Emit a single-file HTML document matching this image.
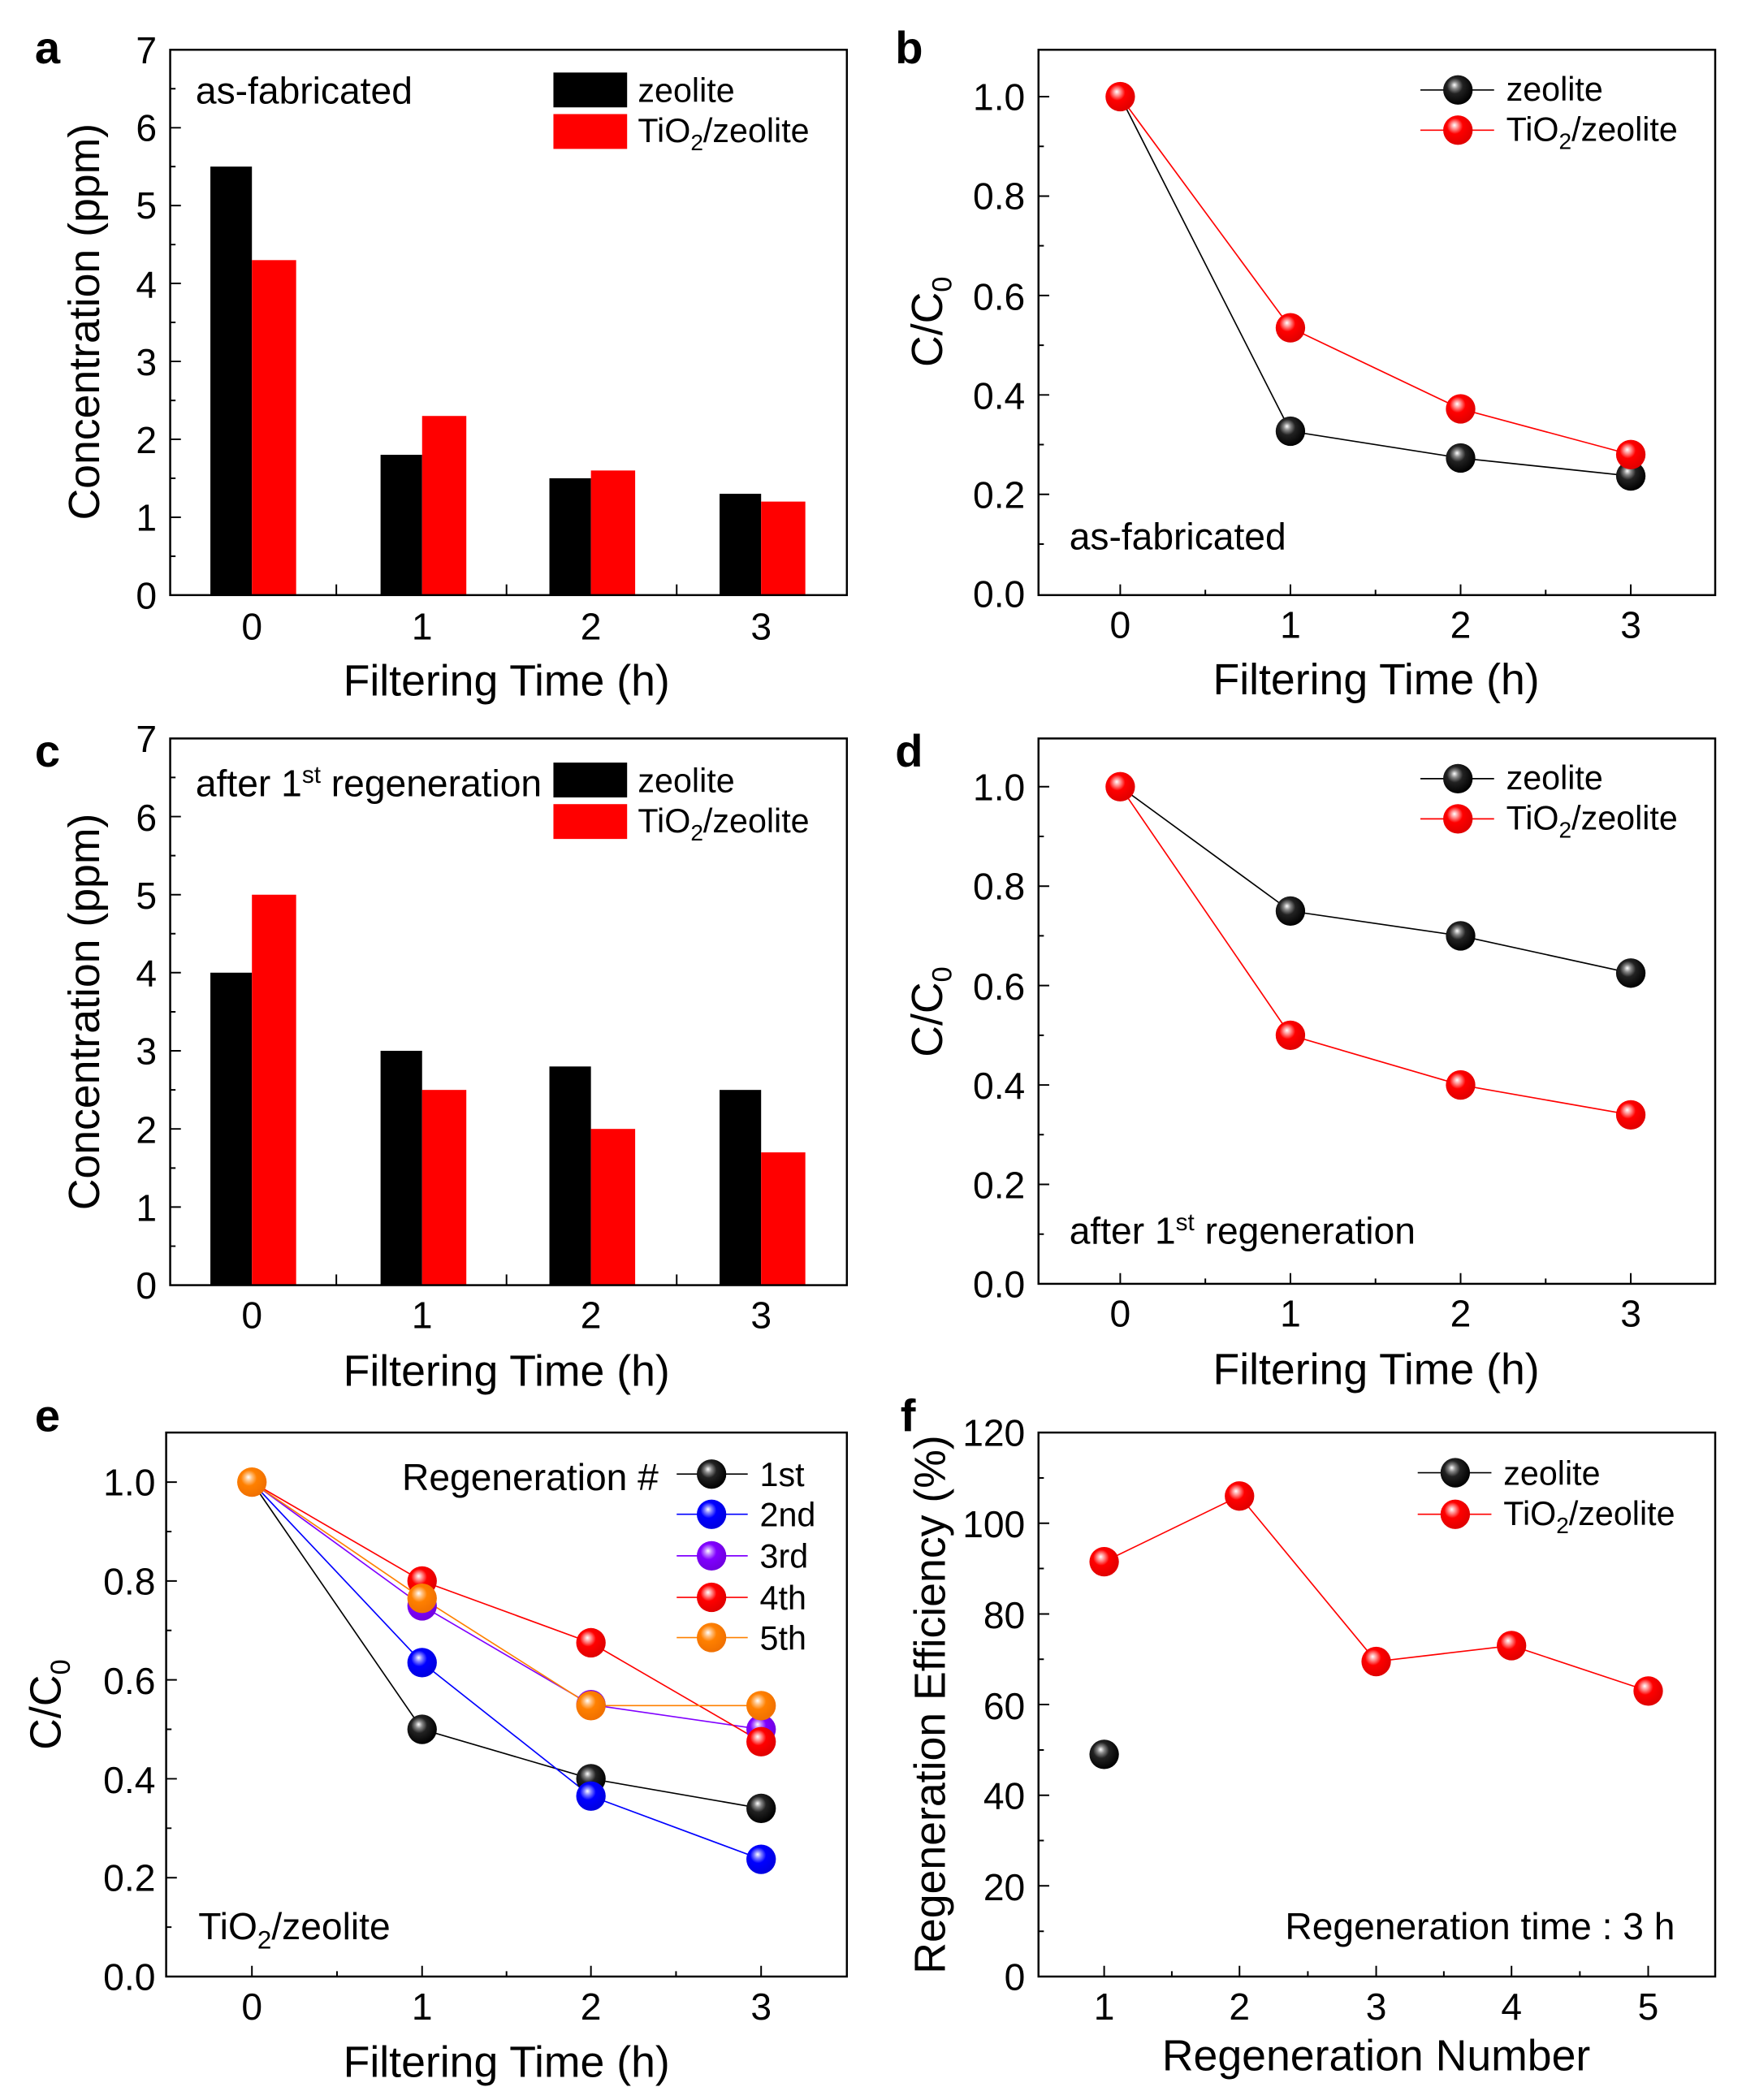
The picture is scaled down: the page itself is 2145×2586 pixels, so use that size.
<!DOCTYPE html>
<html><head><meta charset="utf-8"><style>
html,body{margin:0;padding:0;background:#fff}
svg{display:block}
text{font-family:"Liberation Sans",Arial,sans-serif;fill:#000}
.t{font-size:28px}
.ax{font-size:32.5px}
.lb{font-size:34px;font-weight:bold}
.in{font-size:28px}
.lg{font-size:25px}
</style></head><body>
<svg width="2145" height="2586" viewBox="0 0 1300 1567" xmlns="http://www.w3.org/2000/svg">
<defs>
<radialGradient id="gk" cx="0.42" cy="0.4" r="0.6" fx="0.38" fy="0.33"><stop offset="0" stop-color="#fff"/><stop offset="0.2" stop-color="#888"/><stop offset="0.45" stop-color="#222"/><stop offset="1" stop-color="#000"/></radialGradient>
<radialGradient id="gr" cx="0.42" cy="0.4" r="0.6" fx="0.38" fy="0.33"><stop offset="0" stop-color="#fff"/><stop offset="0.2" stop-color="#ff9090"/><stop offset="0.45" stop-color="#ff0000"/><stop offset="1" stop-color="#e00000"/></radialGradient>
<radialGradient id="gb" cx="0.42" cy="0.4" r="0.6" fx="0.38" fy="0.33"><stop offset="0" stop-color="#fff"/><stop offset="0.2" stop-color="#8080ff"/><stop offset="0.45" stop-color="#0000ff"/><stop offset="1" stop-color="#0000e0"/></radialGradient>
<radialGradient id="gp" cx="0.42" cy="0.4" r="0.6" fx="0.38" fy="0.33"><stop offset="0" stop-color="#fff"/><stop offset="0.2" stop-color="#c080ff"/><stop offset="0.45" stop-color="#8000ff"/><stop offset="1" stop-color="#7000e0"/></radialGradient>
<radialGradient id="go" cx="0.42" cy="0.4" r="0.6" fx="0.38" fy="0.33"><stop offset="0" stop-color="#fff"/><stop offset="0.2" stop-color="#ffc080"/><stop offset="0.45" stop-color="#ff8000"/><stop offset="1" stop-color="#f07000"/></radialGradient>
</defs>

<!-- ===== Panel a ===== -->
<text class="lb" x="26" y="47">a</text>
<g fill="#000">
<rect x="157" y="124.2" width="31" height="319.8"/>
<rect x="284" y="339.3" width="31" height="104.7"/>
<rect x="410" y="356.8" width="31" height="87.2"/>
<rect x="537" y="368.4" width="31" height="75.6"/>
</g>
<g fill="#f00">
<rect x="188" y="194" width="33" height="250"/>
<rect x="315" y="310.3" width="33" height="133.7"/>
<rect x="441" y="351" width="33" height="93"/>
<rect x="568" y="374.2" width="33" height="69.8"/>
</g>
<rect x="127" y="37" width="505" height="407" fill="none" stroke="#000" stroke-width="1.5"/>
<path d="M127 385.9h8M127 327.7h8M127 269.6h8M127 211.4h8M127 153.3h8M127 95.2h8M127 415h4M127 356.8h4M127 298.7h4M127 240.5h4M127 182.4h4M127 124.2h4M127 66.1h4M251 444v-8M378 444v-8M505 444v-8" stroke="#000" stroke-width="1.2"/>
<g class="t" text-anchor="end"><text x="117" y="454">0</text><text x="117" y="396">1</text><text x="117" y="338">2</text><text x="117" y="280">3</text><text x="117" y="222">4</text><text x="117" y="163">5</text><text x="117" y="105">6</text><text x="117" y="47">7</text></g>
<g class="t" text-anchor="middle"><text x="188" y="477">0</text><text x="315" y="477">1</text><text x="441" y="477">2</text><text x="568" y="477">3</text></g>
<text class="ax" x="378" y="519" text-anchor="middle">Filtering Time (h)</text>
<text class="ax" transform="translate(74,240) rotate(-90)" text-anchor="middle">Concentration (ppm)</text>
<text class="in" x="146" y="77">as-fabricated</text>
<rect x="413" y="54" width="55" height="26" fill="#000"/><rect x="413" y="85" width="55" height="26" fill="#f00"/>
<text class="lg" x="476" y="76">zeolite</text>
<text class="lg" x="476" y="106">TiO<tspan font-size="17" dy="6">2</tspan><tspan dy="-6">/zeolite</tspan></text>

<!-- ===== Panel b ===== -->
<text class="lb" x="668" y="47">b</text>
<rect x="775" y="37" width="505" height="407" fill="none" stroke="#000" stroke-width="1.5"/>
<path d="M775 368.8h8M775 294.6h8M775 220.4h8M775 146.2h8M775 72h8M775 405.9h4M775 331.7h4M775 257.5h4M775 183.3h4M775 109.1h4M836 444v-8M963 444v-8M1090 444v-8M1217 444v-8M899.5 444v-4M1026.5 444v-4M1153.5 444v-4" stroke="#000" stroke-width="1.2"/>
<g class="t" text-anchor="end"><text x="765" y="453">0.0</text><text x="765" y="379">0.2</text><text x="765" y="305">0.4</text><text x="765" y="231">0.6</text><text x="765" y="156">0.8</text><text x="765" y="82">1.0</text></g>
<g class="t" text-anchor="middle"><text x="836" y="476">0</text><text x="963" y="476">1</text><text x="1090" y="476">2</text><text x="1217" y="476">3</text></g>
<text class="ax" x="1027" y="518" text-anchor="middle">Filtering Time (h)</text>
<text class="ax" transform="translate(703,240) rotate(-90)" text-anchor="middle">C/C<tspan font-size="21" dy="7">0</tspan></text>
<text class="in" x="798" y="410">as-fabricated</text>
<polyline points="836,72 963,321.7 1090,341.7 1217,355.1" fill="none" stroke="#000" stroke-width="1"/>
<polyline points="836,72 963,244.5 1090,305 1217,339.1" fill="none" stroke="#f00" stroke-width="1"/>
<g fill="url(#gk)"><circle cx="963" cy="321.7" r="11"/><circle cx="1090" cy="341.7" r="11"/><circle cx="1217" cy="355.1" r="11"/></g>
<g fill="url(#gr)"><circle cx="836" cy="72" r="11"/><circle cx="963" cy="244.5" r="11"/><circle cx="1090" cy="305" r="11"/><circle cx="1217" cy="339.1" r="11"/></g>
<line x1="1060" y1="67" x2="1115" y2="67" stroke="#000"/><circle cx="1088" cy="67" r="11" fill="url(#gk)"/>
<line x1="1060" y1="97" x2="1115" y2="97" stroke="#f00"/><circle cx="1088" cy="97" r="11" fill="url(#gr)"/>
<text class="lg" x="1124" y="75">zeolite</text>
<text class="lg" x="1124" y="105">TiO<tspan font-size="17" dy="6">2</tspan><tspan dy="-6">/zeolite</tspan></text>

<!-- ===== Panel c ===== -->
<text class="lb" x="26" y="572">c</text>
<g fill="#000">
<rect x="157" y="725.8" width="31" height="233.2"/>
<rect x="284" y="784.1" width="31" height="174.9"/>
<rect x="410" y="795.8" width="31" height="163.2"/>
<rect x="537" y="813.3" width="31" height="145.7"/>
</g>
<g fill="#f00">
<rect x="188" y="667.6" width="33" height="291.4"/>
<rect x="315" y="813.3" width="33" height="145.7"/>
<rect x="441" y="842.4" width="33" height="116.6"/>
<rect x="568" y="859.9" width="33" height="99.1"/>
</g>
<rect x="127" y="551" width="505" height="408" fill="none" stroke="#000" stroke-width="1.5"/>
<path d="M127 900.7h8M127 842.4h8M127 784.1h8M127 725.8h8M127 667.6h8M127 609.3h8M127 929.9h4M127 871.6h4M127 813.3h4M127 755h4M127 696.7h4M127 638.4h4M127 580.1h4M251 959v-8M378 959v-8M505 959v-8" stroke="#000" stroke-width="1.2"/>
<g class="t" text-anchor="end"><text x="117" y="969">0</text><text x="117" y="911">1</text><text x="117" y="853">2</text><text x="117" y="794">3</text><text x="117" y="736">4</text><text x="117" y="678">5</text><text x="117" y="620">6</text><text x="117" y="561">7</text></g>
<g class="t" text-anchor="middle"><text x="188" y="991">0</text><text x="315" y="991">1</text><text x="441" y="991">2</text><text x="568" y="991">3</text></g>
<text class="ax" x="378" y="1034" text-anchor="middle">Filtering Time (h)</text>
<text class="ax" transform="translate(74,755) rotate(-90)" text-anchor="middle">Concentration (ppm)</text>
<text class="in" x="146" y="594">after 1<tspan font-size="18" dy="-10">st</tspan><tspan dy="10"> regeneration</tspan></text>
<rect x="413" y="569" width="55" height="26" fill="#000"/><rect x="413" y="600" width="55" height="26" fill="#f00"/>
<text class="lg" x="476" y="591">zeolite</text>
<text class="lg" x="476" y="621">TiO<tspan font-size="17" dy="6">2</tspan><tspan dy="-6">/zeolite</tspan></text>

<!-- ===== Panel d ===== -->
<text class="lb" x="668" y="572">d</text>
<rect x="775" y="551" width="505" height="407" fill="none" stroke="#000" stroke-width="1.5"/>
<path d="M775 883.8h8M775 809.6h8M775 735.4h8M775 661.2h8M775 587h8M775 920.9h4M775 846.7h4M775 772.5h4M775 698.3h4M775 624.1h4M836 958v-8M963 958v-8M1090 958v-8M1217 958v-8M899.5 958v-4M1026.5 958v-4M1153.5 958v-4" stroke="#000" stroke-width="1.2"/>
<g class="t" text-anchor="end"><text x="765" y="968">0.0</text><text x="765" y="894">0.2</text><text x="765" y="820">0.4</text><text x="765" y="746">0.6</text><text x="765" y="671">0.8</text><text x="765" y="597">1.0</text></g>
<g class="t" text-anchor="middle"><text x="836" y="990">0</text><text x="963" y="990">1</text><text x="1090" y="990">2</text><text x="1217" y="990">3</text></g>
<text class="ax" x="1027" y="1033" text-anchor="middle">Filtering Time (h)</text>
<text class="ax" transform="translate(703,755) rotate(-90)" text-anchor="middle">C/C<tspan font-size="21" dy="7">0</tspan></text>
<text class="in" x="798" y="928">after 1<tspan font-size="18" dy="-10">st</tspan><tspan dy="10"> regeneration</tspan></text>
<polyline points="836,587 963,679.8 1090,698.3 1217,726.1" fill="none" stroke="#000" stroke-width="1"/>
<polyline points="836,587 963,772.5 1090,809.6 1217,831.9" fill="none" stroke="#f00" stroke-width="1"/>
<g fill="url(#gk)"><circle cx="963" cy="679.8" r="11"/><circle cx="1090" cy="698.3" r="11"/><circle cx="1217" cy="726.1" r="11"/></g>
<g fill="url(#gr)"><circle cx="836" cy="587" r="11"/><circle cx="963" cy="772.5" r="11"/><circle cx="1090" cy="809.6" r="11"/><circle cx="1217" cy="831.9" r="11"/></g>
<line x1="1060" y1="581" x2="1115" y2="581" stroke="#000"/><circle cx="1088" cy="581" r="11" fill="url(#gk)"/>
<line x1="1060" y1="611" x2="1115" y2="611" stroke="#f00"/><circle cx="1088" cy="611" r="11" fill="url(#gr)"/>
<text class="lg" x="1124" y="589">zeolite</text>
<text class="lg" x="1124" y="619">TiO<tspan font-size="17" dy="6">2</tspan><tspan dy="-6">/zeolite</tspan></text>

<!-- ===== Panel e ===== -->
<text class="lb" x="26" y="1068">e</text>
<rect x="124" y="1069" width="508" height="406" fill="none" stroke="#000" stroke-width="1.5"/>
<path d="M124 1401.2h8M124 1327.4h8M124 1253.6h8M124 1179.8h8M124 1106h8M124 1438.1h4M124 1364.3h4M124 1290.5h4M124 1216.7h4M124 1142.9h4M188 1475v-8M315 1475v-8M441 1475v-8M568 1475v-8M251.5 1475v-4M378 1475v-4M504.5 1475v-4" stroke="#000" stroke-width="1.2"/>
<g class="t" text-anchor="end"><text x="116" y="1485">0.0</text><text x="116" y="1411">0.2</text><text x="116" y="1338">0.4</text><text x="116" y="1264">0.6</text><text x="116" y="1190">0.8</text><text x="116" y="1116">1.0</text></g>
<g class="t" text-anchor="middle"><text x="188" y="1507">0</text><text x="315" y="1507">1</text><text x="441" y="1507">2</text><text x="568" y="1507">3</text></g>
<text class="ax" x="378" y="1550" text-anchor="middle">Filtering Time (h)</text>
<text class="ax" transform="translate(45,1272) rotate(-90)" text-anchor="middle">C/C<tspan font-size="21" dy="7">0</tspan></text>
<text class="in" x="148" y="1447">TiO<tspan font-size="19" dy="7">2</tspan><tspan dy="-7">/zeolite</tspan></text>
<polyline points="188,1106 315,1290.5 441,1327.4 568,1349.5" fill="none" stroke="#000" stroke-width="1"/>
<polyline points="188,1106 315,1240.7 441,1340.3 568,1387.5" fill="none" stroke="#00f" stroke-width="1"/>
<polyline points="188,1106 315,1198.3 441,1272.1 568,1290.5" fill="none" stroke="#8000ff" stroke-width="1"/>
<polyline points="188,1106 315,1179.8 441,1225.9 568,1299.7" fill="none" stroke="#f00" stroke-width="1"/>
<polyline points="188,1106 315,1192.7 441,1272.8 568,1272.8" fill="none" stroke="#ff8000" stroke-width="1"/>
<g fill="url(#gk)"><circle cx="315" cy="1290.5" r="11"/><circle cx="441" cy="1327.4" r="11"/><circle cx="568" cy="1349.5" r="11"/></g>
<g fill="url(#gb)"><circle cx="315" cy="1240.7" r="11"/><circle cx="441" cy="1340.3" r="11"/><circle cx="568" cy="1387.5" r="11"/></g>
<g fill="url(#gp)"><circle cx="315" cy="1198.3" r="11"/><circle cx="441" cy="1272.1" r="11"/><circle cx="568" cy="1290.5" r="11"/></g>
<g fill="url(#gr)"><circle cx="315" cy="1179.8" r="11"/><circle cx="441" cy="1225.9" r="11"/><circle cx="568" cy="1299.7" r="11"/></g>
<g fill="url(#go)"><circle cx="188" cy="1106" r="11"/><circle cx="315" cy="1192.7" r="11"/><circle cx="441" cy="1272.8" r="11"/><circle cx="568" cy="1272.8" r="11"/></g>
<text class="in" x="300" y="1112">Regeneration #</text>
<line x1="505" y1="1100" x2="558" y2="1100" stroke="#000"/><circle cx="531" cy="1100" r="11" fill="url(#gk)"/>
<line x1="505" y1="1130" x2="558" y2="1130" stroke="#00f"/><circle cx="531" cy="1130" r="11" fill="url(#gb)"/>
<line x1="505" y1="1161" x2="558" y2="1161" stroke="#8000ff"/><circle cx="531" cy="1161" r="11" fill="url(#gp)"/>
<line x1="505" y1="1192" x2="558" y2="1192" stroke="#f00"/><circle cx="531" cy="1192" r="11" fill="url(#gr)"/>
<line x1="505" y1="1222" x2="558" y2="1222" stroke="#ff8000"/><circle cx="531" cy="1222" r="11" fill="url(#go)"/>
<g class="lg"><text x="567" y="1109">1st</text><text x="567" y="1139">2nd</text><text x="567" y="1170">3rd</text><text x="567" y="1201">4th</text><text x="567" y="1231">5th</text></g>

<!-- ===== Panel f ===== -->
<text class="lb" x="672" y="1068">f</text>
<rect x="775" y="1069" width="505" height="406" fill="none" stroke="#000" stroke-width="1.5"/>
<path d="M775 1407.3h8M775 1339.7h8M775 1272h8M775 1204.4h8M775 1136.7h8M775 1441.2h4M775 1373.5h4M775 1305.9h4M775 1238.2h4M775 1170.5h4M775 1102.9h4M824 1475v-8M925 1475v-8M1027 1475v-8M1128 1475v-8M1230 1475v-8M874.5 1475v-4M976 1475v-4M1077.5 1475v-4M1179 1475v-4" stroke="#000" stroke-width="1.2"/>
<g class="t" text-anchor="end"><text x="765" y="1485">0</text><text x="765" y="1418">20</text><text x="765" y="1350">40</text><text x="765" y="1283">60</text><text x="765" y="1215">80</text><text x="765" y="1147">100</text><text x="765" y="1079">120</text></g>
<g class="t" text-anchor="middle"><text x="824" y="1507">1</text><text x="925" y="1507">2</text><text x="1027" y="1507">3</text><text x="1128" y="1507">4</text><text x="1230" y="1507">5</text></g>
<text class="ax" x="1027" y="1545" text-anchor="middle">Regeneration Number</text>
<text class="ax" transform="translate(705,1272) rotate(-90)" text-anchor="middle">Regeneration Efficiency (%)</text>
<text class="in" x="1250" y="1447" text-anchor="end">Regeneration time : 3 h</text>
<polyline points="824,1165.4 925,1116.4 1027,1239.9 1128,1228 1230,1261.9" fill="none" stroke="#f00" stroke-width="1"/>
<circle cx="824" cy="1309.2" r="11" fill="url(#gk)"/>
<g fill="url(#gr)"><circle cx="824" cy="1165.4" r="11"/><circle cx="925" cy="1116.4" r="11"/><circle cx="1027" cy="1239.9" r="11"/><circle cx="1128" cy="1228" r="11"/><circle cx="1230" cy="1261.9" r="11"/></g>
<line x1="1058" y1="1099" x2="1113" y2="1099" stroke="#000"/><circle cx="1086" cy="1099" r="11" fill="url(#gk)"/>
<line x1="1058" y1="1130" x2="1113" y2="1130" stroke="#f00"/><circle cx="1086" cy="1130" r="11" fill="url(#gr)"/>
<text class="lg" x="1122" y="1108">zeolite</text>
<text class="lg" x="1122" y="1138">TiO<tspan font-size="17" dy="6">2</tspan><tspan dy="-6">/zeolite</tspan></text>
</svg>
</body></html>
